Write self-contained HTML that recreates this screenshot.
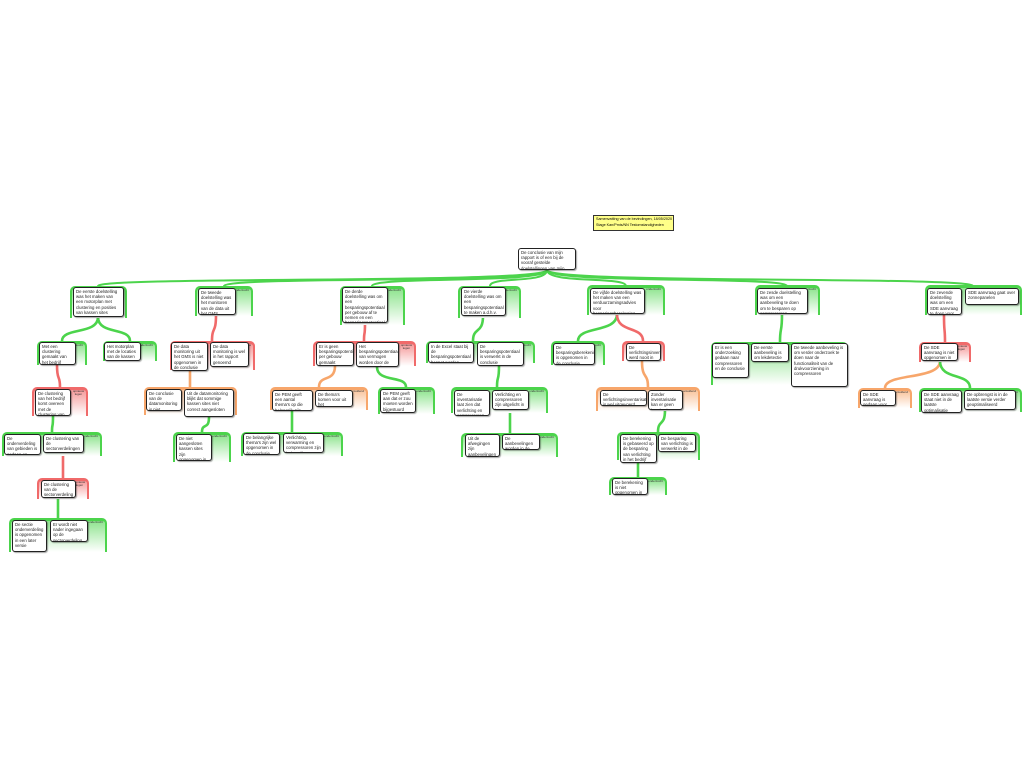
<!DOCTYPE html>
<html><head><meta charset="utf-8"><style>
body{margin:0;width:1024px;height:768px;background:#fff;position:relative;overflow:hidden;font-family:"Liberation Sans",sans-serif}
.f{position:absolute;box-sizing:border-box;border-top:3px solid;border-left:2px solid;border-right:2px solid;border-radius:5px 5px 0 0}
.f.g{border-color:#4cd44c;background:linear-gradient(#8fe48f,#ffffff)}
.f.r{border-color:#f06a6a;background:linear-gradient(#f59a9a,#ffffff)}
.f.o{border-color:#f7a66b;background:linear-gradient(#f9c49c,#ffffff)}
.f span{position:absolute;right:2px;top:0;font-size:3px;line-height:3px;color:#333;text-align:center}
.n{position:absolute;box-sizing:border-box;background:#fff;border:1.3px solid #222;border-radius:3px;box-shadow:1px 1px 1px rgba(0,0,0,.35);font-size:4.3px;line-height:5.2px;padding:1px 2px;color:#222;overflow:hidden}
.note{position:absolute;left:593px;top:215px;width:81px;height:16px;background:#ffff88;border:1px solid #333;font-size:3.7px;line-height:5.5px;padding:1px 2px;box-sizing:border-box;white-space:nowrap;overflow:hidden}
svg{position:absolute;left:0;top:0}
</style></head><body>
<svg width="1024" height="768" id="s"></svg>
<div id="c"></div>
<div class="note">Samenvatting van de bevindingen, 18/05/2020<br>Stage Kan/Pmis/NN Testomstandigheden</div>
<script>
var F=[
[70,286,57,32,'g'],[195,286,58,30,'g'],[340,286,65,39,'g'],[458,286,63,32,'g'],[587,285,78,30,'g'],[755,285,65,30,'g'],[925,285,97,30,'g'],
[37,341,50,24,'g'],[103,341,54,20,'g'],[170,341,85,29,'r'],[313,341,103,25,'r'],[426,341,109,22,'g'],[551,341,54,24,'g'],[622,341,43,20,'r'],[711,342,137,43,'g'],[919,342,52,20,'r'],
[32,387,56,29,'r'],[144,387,93,28,'o'],[270,387,98,23,'o'],[378,387,57,27,'g'],[451,387,97,26,'g'],[596,387,104,24,'o'],[858,388,54,20,'o'],[919,388,103,24,'g'],
[2,432,100,24,'g'],[173,432,58,30,'g'],[241,432,102,24,'g'],[461,433,97,24,'g'],[617,432,83,28,'g'],
[37,478,52,21,'r'],[609,477,58,18,'g'],[9,518,98,34,'g']];
var L={g:'onderzocht',r:'opnieuw<br>legen',o:'aanvullend'};
var N=[
[518,248,58,22,'De conclusie van mijn rapport is of een bij de vooraf gestelde doelstellingen van mijn stageopdracht'],
[73,287,51,30,'De eerste doelstelling was het maken van een motorplan met clustering en posities van kassen sites'],
[198,288,38,27,'De tweede doelstelling was het monitoren van de data uit het GMS'],
[342,287,46,36,'De derde doelstelling was om een besparingspotentiaal per gebouw af te nemen en een besparingspotentiaal te leggen'],
[461,287,45,29,'De vierde doelstelling was om een besparingspotentiaal te maken a.d.h.v. interne bronnen en observaties'],
[590,288,55,26,'De vijfde doelstelling was het maken van een verduurzamingsadvies voor besparingsberekening voor verlichting'],
[757,288,51,26,'De zesde doelstelling was om een aanbeveling te doen om te besparen op compressoren'],
[927,288,35,27,'De zevende doelstelling was om een SDE aanvraag te doen voor het bedrijf'],
[965,288,54,17,'SDE aanvraag gaat over zonnepanelen'],
[39,342,37,23,'Met een clustering gemaakt van het bedrijf'],
[104,342,37,19,'Het motorplan met de locaties van de kassen sites'],
[171,342,37,29,'De data monitoring uit het GMS is niet opgenomen in de conclusie'],
[210,342,39,25,'De data monitoring is wel in het rapport genoemd'],
[316,342,38,24,'Er is geen besparingspotentiaal per gebouw gemaakt'],
[356,342,43,25,'Het besparingspotentiaal van vermogen worden door de PEM voor de gebouwen/routes'],
[428,342,46,21,'In de Excel staat bij de besparingspotentiaal bespot worden'],
[477,342,47,24,'De besparingspotentiaal is verwerkt in de conclusie'],
[553,343,42,22,'De besparingsberekening is opgenomen in de conclusie'],
[626,343,35,18,'De verlichtingsinventarisatie werd nooit in conclusie benoemd'],
[712,343,37,35,'Er is een onderzoeking gedaan naar compressoren en de conclusie'],
[751,343,38,19,'De eerste aanbeveling is om lekdetectie uit te voeren'],
[791,343,57,44,'De tweede aanbeveling is om verder onderzoek te doen naar de functionaliteit van de drukvoorziening in compressoren'],
[921,343,37,18,'De SDE aanvraag is niet opgenomen in het rapport'],
[35,389,36,27,'De clustering van het bedrijf komt overeen met de clustering van de grote sites'],
[146,389,36,22,'De conclusie van de datamonitoring is niet opgenomen in het verslag'],
[184,389,50,28,'Uit de datamonitoring blijkt dat sommige kassen sites niet correct aangesloten'],
[272,390,41,21,'De PEM geeft een aantal thema\'s op die belangrijk zijn voor energiebesparing'],
[315,390,38,17,'De thema\'s komen voor uit het activiteitenbesluit'],
[380,389,36,24,'De PEM geeft aan dat er zou moeten worden bijgestuurd'],
[454,390,36,26,'De inventarisatie laat zien dat verlichting en compressoren een beperkt aantal zijn'],
[492,390,37,20,'Verlichting en compressoren zijn uitgelicht in het rapport'],
[600,390,47,16,'De verlichtingsinventarisatie is wel uitgevoerd'],
[648,390,35,20,'Zonder inventarisatie kan er geen berekening worden gemaakt'],
[860,390,36,16,'De SDE aanvraag is gedaan voor gebouw 5'],
[921,390,41,23,'De SDE aanvraag staat niet in de laatste optimalisatie planning'],
[964,390,52,20,'De opbrengst is in de laatste versie verder geoptimaliseerd'],
[4,434,37,21,'De onderverdeling van gebieden is gedaan op basis van de sectie-clustering'],
[43,434,41,19,'De clustering van de sectorverdelingen is ook in het motorplan opgenomen'],
[176,434,36,27,'De niet aangesloten kassen sites zijn opgenomen in het motorplan'],
[243,433,37,22,'De belangrijke thema\'s zijn wel opgenomen in de conclusie'],
[283,433,41,20,'Verlichting, verwarming en compressoren zijn belangrijke thema\'s'],
[465,434,35,23,'Uit de afwegingen zijn aanbevelingen gekomen'],
[502,434,38,16,'De aanbevelingen worden in de conclusie benoemd'],
[620,434,37,29,'De berekening is gebaseerd op de besparing van verlichting in het bedrijf'],
[658,434,38,18,'De besparing van verlichting is verwerkt in de inventarisatie'],
[41,480,35,18,'De clustering van de sectorverdeling ontbreekt'],
[612,478,36,17,'De berekening is niet opgenomen in de conclusie'],
[12,520,35,32,'De sectie onderverdeling is opgenomen in een later versie'],
[50,520,38,22,'Er wordt niet nader ingegaan op de sectorverdeling in het onderzoek']];
var h='';F.forEach(function(f){h+='<div class="f '+f[4]+'" style="left:'+f[0]+'px;top:'+f[1]+'px;width:'+f[2]+'px;height:'+f[3]+'px"><span>'+L[f[4]]+'</span></div>'});
N.forEach(function(n){h+='<div class="n" style="left:'+n[0]+'px;top:'+n[1]+'px;width:'+n[2]+'px;height:'+n[3]+'px">'+n[4]+'</div>'});
document.getElementById('c').innerHTML=h;
var C={g:'#4cd44c',r:'#f06a6a',o:'#f7a66b'};
var E=[[547,270,98,286,'g'],[547,270,224,286,'g'],[547,270,372,286,'g'],[547,270,490,286,'g'],[547,270,626,286,'g'],[547,270,787,286,'g'],[547,270,973,286,'g'],
[98,317,62,341,'g'],[98,317,130,341,'g'],[216,315,212,341,'r'],[365,323,364,341,'r'],[483,316,473,341,'g'],[617,314,578,341,'g'],[617,314,643,341,'r'],[782,314,780,342,'g'],[944,315,945,342,'r'],
[57,365,60,387,'r'],[190,371,190,387,'o'],[335,366,319,387,'o'],[377,367,406,387,'g'],[499,366,497,387,'g'],[642,361,648,387,'o'],[940,361,885,388,'o'],[940,361,970,388,'g'],
[53,416,52,432,'g'],[209,417,202,432,'g'],[292,411,292,432,'g'],[510,410,510,433,'g'],[665,410,658,432,'g'],
[63,453,63,478,'r'],[638,463,638,477,'g'],[58,498,58,518,'g']];
var p='';E.forEach(function(e){var m=(e[1]+e[3])/2;var w=2.6;if(e[1]==270){m=e[1]+8;w=2;}
p+='<path d="M'+e[0]+' '+e[1]+' C'+e[0]+' '+(m+6)+' '+e[2]+' '+(m-2)+' '+e[2]+' '+e[3]+'" fill="none" stroke="'+C[e[4]]+'" stroke-width="'+w+'"/>'});
document.getElementById('s').innerHTML=p;
</script>
</body></html>
